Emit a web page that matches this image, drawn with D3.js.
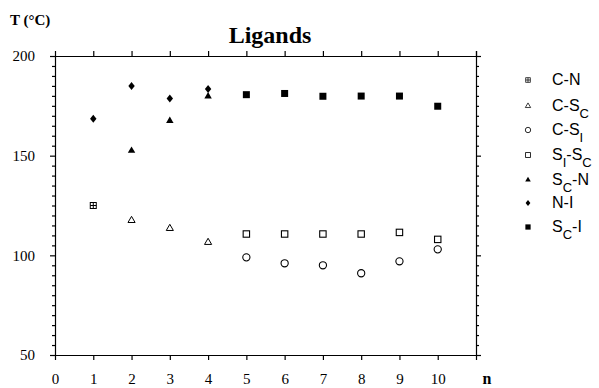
<!DOCTYPE html>
<html>
<head>
<meta charset="utf-8">
<script src="https://cdn.jsdelivr.net/npm/d3@7"></script>
<style>
  body { margin: 0; background: #fff; }
  svg { display: block; }
  .axis path, .axis line { stroke: #000; stroke-width: 1.2; }
  .axis text { font-family: "Liberation Serif", serif; font-size: 15px; fill: #000; }
  .legend text { font-family: "Liberation Sans", Arial, sans-serif; font-size: 16px; fill: #000; }
</style>
</head>
<body>
<div id="chart"></div>
<script>
// values (T in °C vs. chain length n)
const cN   = [[1, 125]];
const cSc  = [[2, 117.5], [3, 113.5], [4, 106.5]];
const cSi  = [[5, 99], [6, 96], [7, 95], [8, 91], [9, 97], [10, 103]];
const siSc = [[5, 110.7], [6, 110.7], [7, 110.7], [8, 110.7], [9, 111.5], [10, 108]];
const scN  = [[2, 152.5], [3, 167.5], [4, 179.8]];
const nI   = [[1, 168.5], [2, 185], [3, 178.7], [4, 183.5]];
const scI  = [[5, 180.6], [6, 181.2], [7, 179.8], [8, 179.9], [9, 179.9], [10, 174.8]];

const xTicks = [0, 1, 2, 3, 4, 5, 6, 7, 8, 9, 10];
const yTicks = [50, 100, 150, 200];

const series = [
  { name: "C-N",  sub: [["C-N", 0]],                          data: cN,   shape: "plusbox" },
  { name: "C-Sc", sub: [["C-S", 0], ["C", 1]],                data: cSc,  shape: "tri" },
  { name: "C-SI", sub: [["C-S", 0], ["I", 1]],                data: cSi,  shape: "circle" },
  { name: "SI-Sc",sub: [["S", 0], ["I", 1], ["-S", 0], ["C", 1]], data: siSc, shape: "square" },
  { name: "Sc-N", sub: [["S", 0], ["C", 1], ["-N", 0]],       data: scN,  shape: "triFill" },
  { name: "N-I",  sub: [["N-I", 0]],                          data: nI,   shape: "diamond" },
  { name: "Sc-I", sub: [["S", 0], ["C", 1], ["-I", 0]],       data: scI,  shape: "squareFill" }
];

const width = 599, height = 388;
const svg = d3.select("#chart").append("svg")
  .attr("width", width).attr("height", height);

const x = d3.scaleLinear().domain([0, 11]).range([55, 476]);
const y = d3.scaleLinear().domain([50, 200]).range([355, 56]);

const minorY = d3.range(50, 201, 5);

// left axis
svg.append("g").attr("class", "axis")
  .attr("transform", `translate(${x(0)},0)`)
  .call(d3.axisLeft(y).tickValues(minorY).tickSizeOuter(0)
    .tickSize(3).tickPadding(17)
    .tickFormat(d => yTicks.includes(d) ? d : ""))
  .call(g => g.selectAll(".tick line").attr("x2", d => yTicks.includes(d) ? -5 : -3));

// right axis
svg.append("g").attr("class", "axis")
  .attr("transform", `translate(${x(11)},0)`)
  .call(d3.axisRight(y).tickValues(minorY).tickSizeOuter(0).tickSize(3).tickFormat(""))
  .call(g => g.selectAll(".tick line").attr("x2", d => yTicks.includes(d) ? 5 : 3));

// bottom axis
svg.append("g").attr("class", "axis")
  .attr("transform", `translate(0,${y(50)})`)
  .call(d3.axisBottom(x).tickValues(xTicks).tickSizeOuter(0).tickSize(5).tickPadding(13))
  .call(g => g.selectAll(".tick line").filter(d => d === 0).remove());

// top axis
svg.append("g").attr("class", "axis")
  .attr("transform", `translate(0,${y(200)})`)
  .call(d3.axisTop(x).tickValues(d3.range(1, 12)).tickSizeOuter(0).tickSize(5).tickFormat(""));

// labels
svg.append("text").attr("x", 10).attr("y", 25)
  .attr("font-family", "Liberation Serif, serif").attr("font-weight", "bold").attr("font-size", 15)
  .text("T (°C)");
svg.append("text").attr("x", 270).attr("y", 43).attr("text-anchor", "middle")
  .attr("font-family", "Liberation Serif, serif").attr("font-weight", "bold").attr("font-size", 24)
  .text("Ligands");
svg.append("text").attr("x", 487).attr("y", 384).attr("text-anchor", "middle")
  .attr("font-family", "Liberation Serif, serif").attr("font-weight", "bold").attr("font-size", 16)
  .text("n");

function drawMarker(g, shape) {
  switch (shape) {
    case "plusbox":
      g.append("rect").attr("x", -3).attr("y", -3).attr("width", 6).attr("height", 6)
        .attr("fill", "none").attr("stroke", "#000").attr("stroke-width", 1);
      g.append("path").attr("d", "M-3,0H3M0,-3V3").attr("stroke", "#000").attr("stroke-width", 1);
      break;
    case "tri":
      g.append("path").attr("d", d3.symbol(d3.symbolTriangle, 22)())
        .attr("fill", "none").attr("stroke", "#000").attr("stroke-width", 1);
      break;
    case "circle":
      g.append("circle").attr("r", 3.6)
        .attr("fill", "none").attr("stroke", "#000").attr("stroke-width", 1.1);
      break;
    case "square":
      g.append("rect").attr("x", -3.2).attr("y", -3.2).attr("width", 6.4).attr("height", 6.4)
        .attr("fill", "none").attr("stroke", "#000").attr("stroke-width", 1.1);
      break;
    case "triFill":
      g.append("path").attr("d", d3.symbol(d3.symbolTriangle, 24)()).attr("fill", "#000");
      break;
    case "diamond":
      g.append("path").attr("d", "M0,-4L3.2,0L0,4L-3.2,0Z").attr("fill", "#000");
      break;
    case "squareFill":
      g.append("rect").attr("x", -3.5).attr("y", -3.5).attr("width", 7).attr("height", 7).attr("fill", "#000");
      break;
  }
}

// points
series.forEach(s => {
  svg.append("g").selectAll("g")
    .data(s.data)
    .join("g")
    .attr("transform", d => `translate(${x(d[0])},${y(d[1])})`)
    .each(function() { drawMarker(d3.select(this), s.shape); });
});

// legend
const legendY = [80, 106, 130, 155, 180, 203, 227];
const legend = svg.append("g").attr("class", "legend");
series.forEach((s, i) => {
  const g = legend.append("g").attr("transform", `translate(0,${legendY[i]})`);
  const m = g.append("g").attr("transform", "translate(528,0) scale(0.75)");
  drawMarker(m, s.shape);
  const t = g.append("text").attr("x", 552).attr("y", 5);
  s.sub.forEach(([txt, isSub], k) => {
    t.append("tspan")
      .attr("dy", isSub ? 7 : (k > 0 ? -7 : 0))
      .attr("font-size", isSub ? 13 : 16)
      .text(txt);
  });
});
</script>
</body>
</html>
